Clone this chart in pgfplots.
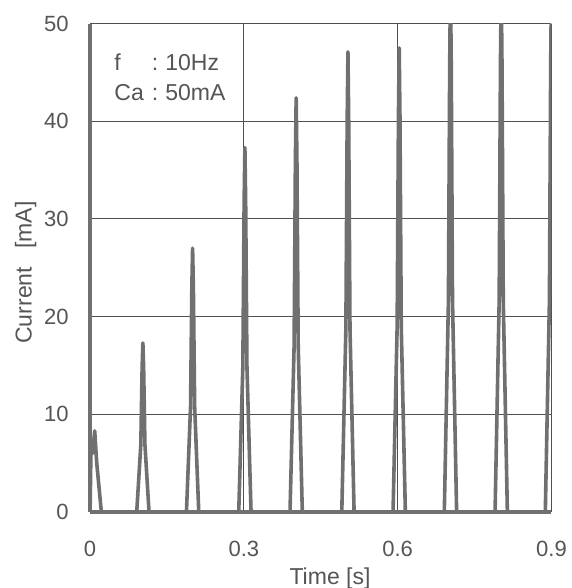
\documentclass[border=0pt]{standalone}
\usepackage{fontspec}
\setmainfont{Liberation Sans}
\usepackage{pgfplots}
\pgfplotsset{compat=1.18}
\definecolor{trace}{RGB}{112,112,112}
\definecolor{gridc}{RGB}{80,80,80}
\definecolor{txt}{RGB}{85,85,85}

\begin{document}
\begin{tikzpicture}
\begin{axis}[
    name=ax,
    scale only axis,
    width=230.5pt, height=244pt,
    xmin=0, xmax=0.9, ymin=0, ymax=50,
    xtick={0,0.3,0.6,0.9},
    ytick={0,10,20,30,40,50},
    axis lines=left,
    axis line style={-, line width=1.6pt, color=trace},
    tick style={draw=none},
    grid=major,
    major grid style={gridc, line width=0.45pt},
    /pgf/number format/assume math mode=true,
    ticklabel style={font=\fontsize{11}{13}\selectfont, text=txt},
    xticklabel style={yshift=-9pt},
    yticklabel style={xshift=-5pt},
    xlabel={Time [s]},
    ylabel={Current\hspace{9pt}[mA]},
    label style={font=\fontsize{11.5}{13}\selectfont, text=txt},
    xlabel style={at={(rel axis cs:0.52,0)}, yshift=-24.5pt},
    ylabel style={at={(ticklabel cs:0.49)}, yshift=-3pt},
    clip=true,
]
\addplot[trace, line width=1.8pt, line join=round] coordinates {
    (0,0)(0.002,7.4)(0.005,6.0)(0.009,8.3)(0.013,5.0)(0.022,0)
    (0.091,0)(0.099,6.9)(0.1015,14.7)(0.103,17.3)(0.1045,14.7)(0.107,6.9)(0.115,0)
    (0.188,0)(0.196,10.8)(0.1985,23.0)(0.2,27.0)(0.2015,23.0)(0.204,10.8)(0.212,0)
    (0.290,0)(0.298,14.9)(0.3005,31.7)(0.302,37.3)(0.3035,31.7)(0.306,14.9)(0.314,0)
    (0.390,0)(0.398,17.0)(0.4005,36.0)(0.402,42.4)(0.4035,36.0)(0.406,17.0)(0.414,0)
    (0.491,0)(0.499,18.8)(0.5015,40.0)(0.503,47.1)(0.5045,40.0)(0.507,18.8)(0.515,0)
    (0.591,0)(0.599,19.0)(0.6015,40.4)(0.603,47.5)(0.6045,40.4)(0.607,19.0)(0.615,0)
    (0.691,0)(0.699,21.6)(0.7015,45.9)(0.703,54.0)(0.7045,45.9)(0.707,21.6)(0.715,0)
    (0.790,0)(0.798,21.6)(0.8005,45.9)(0.802,54.0)(0.8035,45.9)(0.806,21.6)(0.814,0)
    (0.888,0)(0.896,21.6)(0.8985,45.9)(0.9,54.0)(0.9015,45.9)
};
\node[anchor=north west, inner sep=0pt, text=txt,
      font=\fontsize{11.5}{15}\selectfont]
  at (rel axis cs:0.052,0.947)
  {\begin{tabular}{@{}l@{\hspace{4pt}:\hspace{3.5pt}}l@{}}f & 10Hz\\ Ca & 50mA\end{tabular}};
\end{axis}
\pgfresetboundingbox
\path ([shift={(-45pt,-38pt)}]ax.south west) rectangle ([shift={(10pt,11.75pt)}]ax.north east);
\end{tikzpicture}
\end{document}
